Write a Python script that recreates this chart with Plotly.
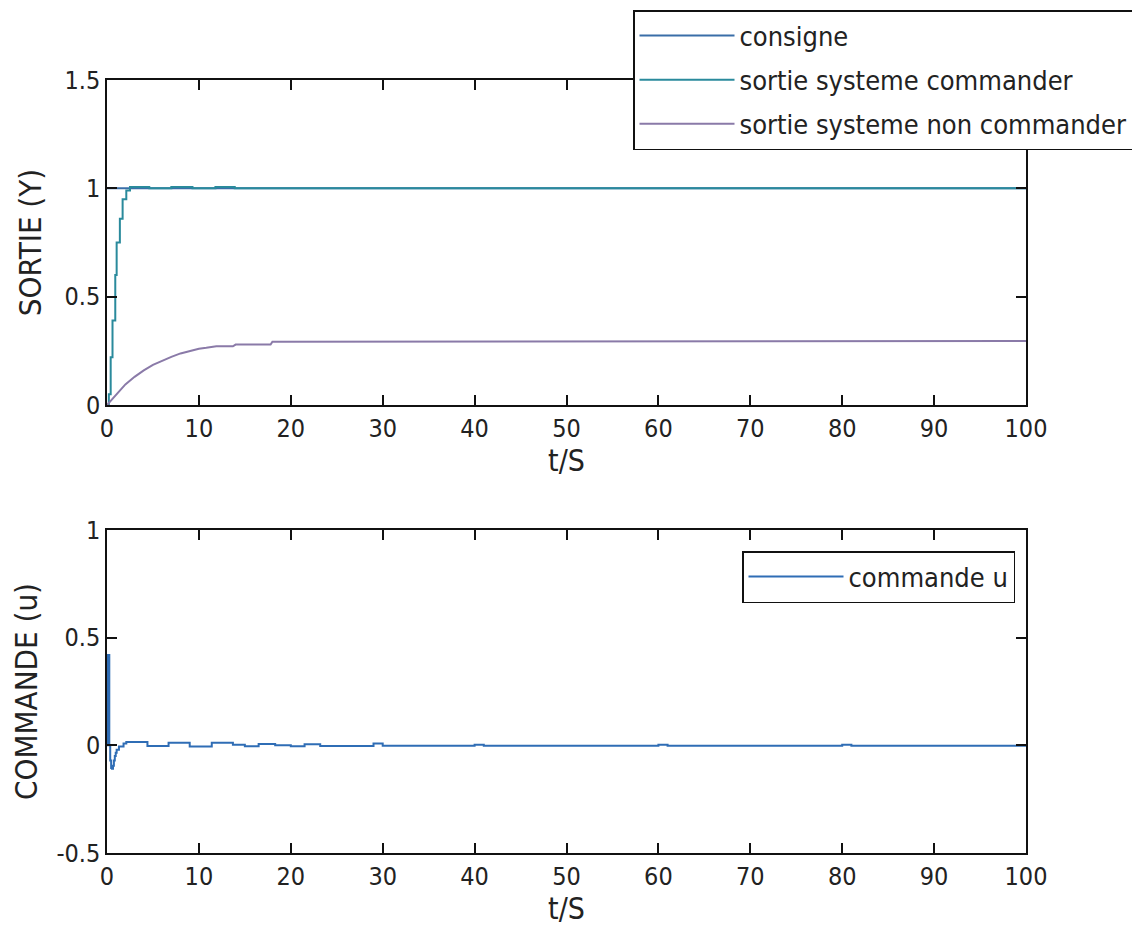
import plotly.graph_objects as go
from plotly.subplots import make_subplots

# ---------------- data ----------------
t_consigne = [0, 100]
consigne = [1, 1]

t_cmd = [0, 0.2, 0.4, 0.6, 0.9, 1.05, 1.4, 1.7, 2.1, 2.5, 4.6, 7.0, 9.3, 11.8, 13.9, 100]
y_cmd = [0, 0.05, 0.22, 0.39, 0.6, 0.75, 0.86, 0.95, 0.99, 1.006, 1.0, 1.006, 1.0, 1.006, 1.0, 1.0]

t_nc = [0, 1, 2, 3, 4, 5, 6, 7, 8, 9, 10, 10.8, 11.9, 13.7, 14.0, 17.8, 18.0, 100]
y_nc = [0, 0.05, 0.095, 0.13, 0.16, 0.185, 0.205, 0.222, 0.238, 0.25, 0.26, 0.264,
        0.271, 0.271, 0.279, 0.279, 0.292, 0.295]

t_u = [0, 0.03, 0.15, 0.25, 0.35, 0.45, 0.55, 0.65, 0.75, 0.85, 0.95, 1.05, 1.3, 1.8,
       2.1, 4.1, 4.4, 6.7, 9.0, 11.4, 13.7, 15, 16.5, 18.3, 20, 21.5, 23.2, 29, 30,
       40, 41, 60, 61, 80, 81, 100]
u = [0, 0.42, 0.42, 0.0, -0.07, -0.105, -0.109, -0.095, -0.07, -0.05, -0.035, -0.02,
     -0.005, 0.008, 0.016, 0.016, -0.003, 0.012, -0.005, 0.012, 0.003, -0.004, 0.006,
     0.0, -0.004, 0.005, -0.003, 0.008, -0.002, 0.003, -0.002, 0.003, -0.002, 0.003,
     -0.002, -0.002]

x_ticks = [0, 10, 20, 30, 40, 50, 60, 70, 80, 90, 100]
y1_ticks = [0, 0.5, 1, 1.5]
y1_labels = ["0", "0.5", "1", "1.5"]
y2_ticks = [-0.5, 0, 0.5, 1]
y2_labels = ["-0.5", "0", "0.5", "1"]

# ---------------- styling ----------------
FONT = "DejaVu Sans Condensed, Liberation Sans Narrow, sans-serif"
TXT = "#222222"
C_CONS = "#3a6ea8"
C_CMD = "#2a8a9c"
C_NC = "#8a7aa8"
C_U = "#2f6db5"

fig = make_subplots(rows=2, cols=1, vertical_spacing=0.0)

fig.add_trace(go.Scatter(x=t_consigne, y=consigne, mode="lines", name="consigne",
                         legendgroup="a",
                         line=dict(color=C_CONS, width=2), legend="legend"), row=1, col=1)
fig.add_trace(go.Scatter(x=t_cmd, y=y_cmd, mode="lines", name="sortie systeme commander",
                         legendgroup="b",
                         line=dict(color=C_CMD, width=2, shape="hv"), legend="legend"), row=1, col=1)
fig.add_trace(go.Scatter(x=t_nc, y=y_nc, mode="lines", name="sortie systeme non commander",
                         legendgroup="c",
                         line=dict(color=C_NC, width=2), legend="legend"), row=1, col=1)
fig.add_trace(go.Scatter(x=t_u, y=u, mode="lines", name="commande u",
                         line=dict(color=C_U, width=2, shape="hv"), legend="legend2"), row=2, col=1)

axis_common = dict(showline=True, linecolor="#111111", linewidth=1.5, mirror="ticks",
                   ticks="inside", ticklen=10, tickwidth=1.5, tickcolor="#111111",
                   showgrid=False, zeroline=False,
                   tickfont=dict(family=FONT, size=25, color=TXT))

top_dom = [(853 - 405) / 773, 1.0]
bot_dom = [0.0, (853 - 530) / 773]

fig.update_xaxes(**axis_common, range=[0, 100], tickvals=x_ticks,
                 title=dict(text="t/S", font=dict(family=FONT, size=30, color=TXT), standoff=3))
fig.update_xaxes(domain=[0, 1])
fig.update_yaxes(**axis_common)

fig.update_yaxes(row=1, col=1, range=[0, 1.5], tickvals=y1_ticks, ticktext=y1_labels,
                 domain=top_dom,
                 title=dict(text="SORTIE (Y)", font=dict(family=FONT, size=31, color=TXT), standoff=14))
fig.update_yaxes(row=2, col=1, range=[-0.5, 1], tickvals=y2_ticks, ticktext=y2_labels,
                 domain=bot_dom,
                 title=dict(text="COMMANDE (u)", font=dict(family=FONT, size=31, color=TXT), standoff=16))

fig.update_layout(
    width=1132, height=926,
    margin=dict(l=99, r=114, t=72, b=81, autoexpand=False),
    paper_bgcolor="white", plot_bgcolor="white",
    font=dict(family=FONT, color=TXT),
    showlegend=True,
    legend=dict(x=(633 - 107) / 919, xanchor="left", y=(853 - 150) / 773, yanchor="bottom",
                bgcolor="white", bordercolor="#111111", borderwidth=1.5,
                font=dict(family=FONT, size=27, color=TXT), itemwidth=95,
                tracegroupgap=6),
    legend2=dict(x=(1015 - 107) / 919, xanchor="right", y=(853 - 551) / 773, yanchor="top",
                 bgcolor="white", bordercolor="#111111", borderwidth=1.5,
                 font=dict(family=FONT, size=27, color=TXT), itemwidth=95),
)

fig.write_html("out.html")
